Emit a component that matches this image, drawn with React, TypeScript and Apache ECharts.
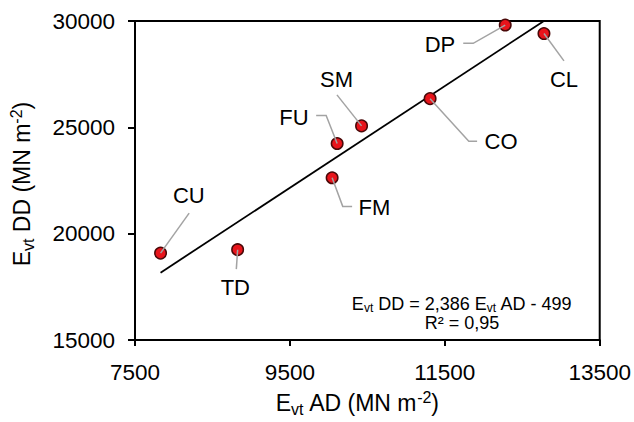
import React, { useEffect, useRef } from 'react';
import * as echarts from 'echarts';

// ---- data ----
const sampleNames = ['CU', 'TD', 'FM', 'FU', 'SM', 'CO', 'DP', 'CL'];
const evtAD = [7830, 8825, 10045, 10110, 10425, 11310, 12280, 12780];
const evtDD = [19090, 19250, 22630, 24240, 25070, 26350, 29810, 29410];
const xTickValues = [7500, 9500, 11500, 13500];
const fitLineAD = [7830, 12770];
const fitLineDD = [18170, 29980];
const equationLine1 = '{a|E}{s|vt}{a| DD = 2,386 E}{s|vt}{a| AD - 499}';
const equationLine2 = '{a|R² = 0,95}';

// ---- label placement (pixel offsets from each point) ----
type LabelPos = { path: number[][]; x: number; y: number; align: string };
const labelLayout: Record<string, LabelPos> = {
  CU: { path: [[28.6, -40]], x: 28.3, y: -57.7, align: 'center' },
  TD: { path: [[-1.3, 19.4]], x: -2.3, y: 37.4, align: 'center' },
  FM: { path: [[10.6, 28.6], [20, 28.6]], x: 26.5, y: 29.3, align: 'left' },
  FU: { path: [[-11, -28], [-21, -28]], x: -28.5, y: -26.4, align: 'right' },
  SM: { path: [[-24.6, -31]], x: -25, y: -46.7, align: 'center' },
  CO: { path: [[38.7, 42.7], [47, 42.7]], x: 54.5, y: 43.3, align: 'left' },
  DP: { path: [[-32, 18.3], [-42, 18.3]], x: -50, y: 19.3, align: 'right' },
  CL: { path: [[20, 27.3]], x: 20, y: 46.3, align: 'center' },
};

const FONT = '"Liberation Sans", Arial, sans-serif';

const titleRich = {
  a: { fontSize: 23, lineHeight: 28, fontFamily: FONT, color: '#000' },
  s: { fontSize: 16, lineHeight: 16, verticalAlign: 'bottom', fontFamily: FONT, color: '#000' },
  p: { fontSize: 16, lineHeight: 16, verticalAlign: 'top', fontFamily: FONT, color: '#000' },
};

export default function App() {
  const ref = useRef<HTMLDivElement>(null);

  useEffect(() => {
    if (!ref.current) return;
    const chart = echarts.init(ref.current, undefined, { renderer: 'svg' });

    const points = sampleNames.map((n, i) => [evtAD[i], evtDD[i], i]);
    const fit = fitLineAD.map((x, i) => [x, fitLineDD[i]]);

    chart.setOption({
      animation: false,
      grid: {
        left: 134,
        right: 32,
        top: 21,
        bottom: 76,
        show: true,
        borderColor: '#000',
        borderWidth: 2,
      },
      xAxis: {
        type: 'value',
        min: 7500,
        max: 13500,
        name: '{a|E}{s|vt}{a| AD (MN m}{p|-2}{a|)}',
        nameLocation: 'middle',
        nameGap: 48,
        nameTextStyle: {
          fontFamily: FONT,
          fontSize: 23,
          color: '#000',
          rich: titleRich,
          padding: [0, 20, 0, 0],
        },
        splitLine: { show: false },
        axisLine: { lineStyle: { color: '#000', width: 2 } },
        axisTick: { length: 6, lineStyle: { color: '#000', width: 2 }, customValues: xTickValues },
        axisLabel: {
          customValues: xTickValues,
          formatter: (v: number) => String(v),
          fontFamily: FONT,
          fontSize: 22.5,
          color: '#000',
          margin: 21,
        },
      },
      yAxis: {
        type: 'value',
        min: 15000,
        max: 30000,
        interval: 5000,
        name: '{a|E}{s|vt}{a| DD (MN m}{p|-2}{a|)}',
        nameLocation: 'middle',
        nameGap: 99,
        nameTextStyle: {
          fontFamily: FONT,
          fontSize: 23,
          color: '#000',
          rich: titleRich,
          padding: [0, 7, 0, 0],
        },
        splitLine: { show: false },
        axisLine: { lineStyle: { color: '#000', width: 2 } },
        axisTick: { length: 7, lineStyle: { color: '#000', width: 2 } },
        axisLabel: {
          formatter: (v: number) => String(v),
          fontFamily: FONT,
          fontSize: 22.5,
          color: '#000',
          margin: 20,
        },
      },
      series: [
        {
          type: 'line',
          data: fit,
          symbol: 'none',
          silent: true,
          z: 1,
          lineStyle: { color: '#000', width: 1.8 },
        },
        {
          type: 'scatter',
          data: points,
          symbolSize: 11.5,
          silent: true,
          z: 2,
          itemStyle: { color: '#e8141b', borderColor: '#4a0808', borderWidth: 1.5, opacity: 1 },
        },
        {
          type: 'custom',
          coordinateSystem: 'cartesian2d',
          data: points,
          silent: true,
          z: 3,
          renderItem: (params: any, api: any) => {
            const p = api.coord([api.value(0), api.value(1)]);
            const name = sampleNames[params.dataIndex];
            const L = labelLayout[name];
            const pts = [[p[0], p[1]], ...L.path.map((d) => [p[0] + d[0], p[1] + d[1]])];
            return {
              type: 'group',
              children: [
                {
                  type: 'polyline',
                  shape: { points: pts },
                  style: { stroke: '#a3a3a3', lineWidth: 1.5, fill: 'none' },
                },
                {
                  type: 'text',
                  x: p[0] + L.x,
                  y: p[1] + L.y,
                  style: {
                    text: name,
                    fontFamily: FONT,
                    fontSize: 22,
                    fill: '#000',
                    align: L.align,
                    verticalAlign: 'middle',
                  },
                },
              ],
            };
          },
        },
      ],
      graphic: [
        {
          type: 'text',
          x: 462,
          y: 294,
          silent: true,
          style: {
            text: equationLine1 + '\n' + equationLine2,
            align: 'center',
            verticalAlign: 'top',
            fontFamily: FONT,
            fontSize: 18,
            fill: '#000',
            rich: {
              a: { fontSize: 18, lineHeight: 19.5, fontFamily: FONT, fill: '#000', align: 'center' },
              s: { fontSize: 12, lineHeight: 12, verticalAlign: 'bottom', fontFamily: FONT, fill: '#000' },
            },
          },
        },
      ],
    });

    return () => chart.dispose();
  }, []);

  return (
    <div
      ref={ref}
      style={{ position: 'fixed', left: 0, top: 0, width: 634, height: 422, background: '#fff' }}
    />
  );
}
